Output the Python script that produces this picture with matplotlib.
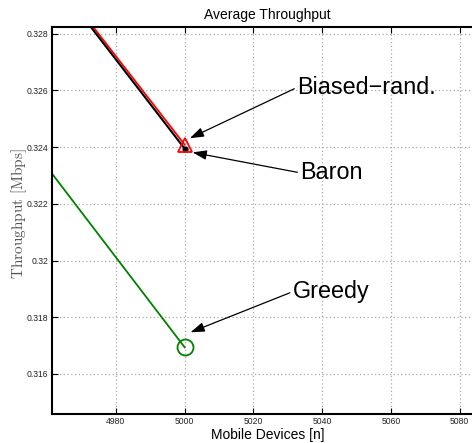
import matplotlib
matplotlib.use("Agg")
import matplotlib.pyplot as plt

plt.rcParams['mathtext.fontset'] = 'cm'

x = [4950, 5000]
biased = [0.33188, 0.32408]
baron = [0.33180, 0.32394]
greedy = [0.32487, 0.31694]

xticks = [4980, 5000, 5020, 5040, 5060, 5080]
yticks = [0.316, 0.318, 0.32, 0.322, 0.324, 0.326, 0.328]
yticklabels = ['0.316', '0.318', '0.32', '0.322', '0.324', '0.326', '0.328']

fig = plt.figure(figsize=(4.72, 4.43), dpi=100)
ax = fig.add_axes([52/472, 29/443, 431/472, 387/443])

ax.plot(x, baron, color='black', lw=1.5, zorder=3)
ax.plot(x[-1:], baron[-1:], 'k.', ms=7, zorder=4)
ax.plot(x, biased, color='red', lw=1.3, zorder=2)
ax.plot(x[-1:], biased[-1:], '^', ms=10, mfc='none', mec='red', mew=1.3, zorder=4)
ax.plot(x, greedy, color='#008000', lw=1.3, zorder=2)
ax.plot(x[-1:], greedy[-1:], 'o', ms=11.5, mfc='none', mec='#008000', mew=1.3, zorder=4)

ax.set_xlim(4961.4, 5086.8)
ax.set_ylim(0.31459, 0.32823)
ax.set_xticks(xticks)
ax.set_yticks(yticks)
ax.set_yticklabels(yticklabels)

fam = ['Liberation Sans', 'DejaVu Sans']
for lab in ax.get_xticklabels() + ax.get_yticklabels():
    lab.set_fontfamily(fam)
    lab.set_fontsize(6.2)
    lab.set_color('#222222')
ax.tick_params(direction='in', top=True, right=True, length=4, width=0.8, pad=2.5)
ax.grid(True, linestyle=(0, (1, 2)), color='#aaaaaa', lw=0.9)
for s in ax.spines.values():
    s.set_linewidth(1.5)

ax.set_title('Average Throughput', fontsize=10, family=fam, pad=6)
ax.set_xlabel('Mobile Devices [n]', fontsize=10, family=fam, labelpad=1)
ax.set_ylabel(r'$\mathrm{Throughput\ [Mbps]}$', fontsize=11, color='#555555', va='center')
ax.yaxis.set_label_coords(-33/431, 0.517)

arrow = dict(arrowstyle='-|>,head_length=0.5,head_width=0.17', color='black', lw=0.9,
             relpos=(0, 0.5), shrinkA=0, shrinkB=0)
ax.annotate('Biased\u2212rand.', xy=(5001.5, 0.32431), xytext=(5032.7, 0.32610),
            fontsize=16.8, family=fam, ha='left', va='center', arrowprops=arrow)
ax.annotate('Baron', xy=(5002.3, 0.32381), xytext=(5033.6, 0.32309),
            fontsize=16.8, family=fam, ha='left', va='center', arrowprops=arrow)
ax.annotate('Greedy', xy=(5001.7, 0.31747), xytext=(5031.4, 0.31890),
            fontsize=16.8, family=fam, ha='left', va='center', arrowprops=arrow)

fig.savefig('out.png', dpi=100)
